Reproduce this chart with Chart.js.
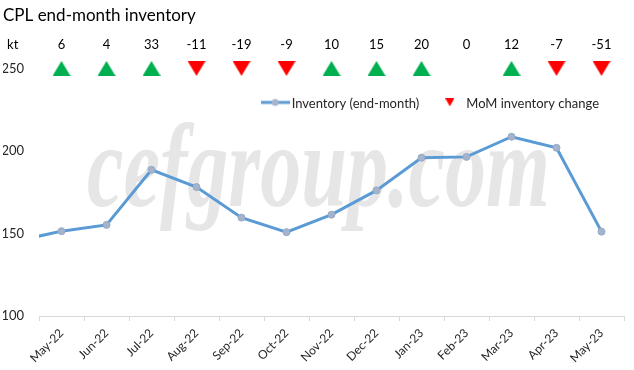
<!DOCTYPE html>
<html>
<head>
<meta charset="utf-8">
<script src="https://cdn.jsdelivr.net/npm/chart.js@4.4.1/dist/chart.umd.min.js"></script>
<style>
  html, body { margin: 0; padding: 0; background: #fff; }
  #wrap { width: 634px; height: 370px; }
</style>
</head>
<body>
<div id="wrap"><canvas id="inventory-chart"></canvas></div>
<script>
// CPL end-month inventory (kt)
// Apr-22 is kept off the axis, it only makes the line come in from the left edge
const months = ['Apr-22', 'May-22', 'Jun-22', 'Jul-22', 'Aug-22', 'Sep-22', 'Oct-22',
    'Nov-22', 'Dec-22', 'Jan-23', 'Feb-23', 'Mar-23', 'Apr-23', 'May-23'];
const inventory = [145.4, 151.4, 155.2, 188.6, 178.1, 159.6, 150.8,
    161.4, 176.1, 195.9, 196.4, 208.6, 201.9, 151.1];
const momChange = [null, 6, 4, 33, -11, -19, -9, 10, 15, 20, 0, 12, -7, -51];
const markerLevel = 250;
const yMin = 100;
const yMax = 250;
const yStep = 50;

const FONT = 'Lato';
const LINE_BLUE = '#5b9bd5';
const POINT_FILL = '#a5b4cc';
const UP_GREEN = '#00b050';
const DOWN_RED = '#ff0000';

// little canvases used as point styles
function triangle(w, h, color, up) {
    const c = document.createElement('canvas');
    c.width = w;
    c.height = h;
    const ctx = c.getContext('2d');
    ctx.fillStyle = color;
    ctx.beginPath();
    if (up) {
        ctx.moveTo(w / 2, 0);
        ctx.lineTo(w, h);
        ctx.lineTo(0, h);
    } else {
        ctx.moveTo(0, 0);
        ctx.lineTo(w, 0);
        ctx.lineTo(w / 2, h);
    }
    ctx.closePath();
    ctx.fill();
    return c;
}

function lineWithDot() {
    const c = document.createElement('canvas');
    c.width = 29;
    c.height = 10;
    const ctx = c.getContext('2d');
    ctx.strokeStyle = LINE_BLUE;
    ctx.lineWidth = 3;
    ctx.beginPath();
    ctx.moveTo(0, 5);
    ctx.lineTo(29, 5);
    ctx.stroke();
    ctx.fillStyle = POINT_FILL;
    ctx.beginPath();
    ctx.arc(14.5, 5, 3.5, 0, Math.PI * 2);
    ctx.fill();
    return c;
}

const upMark = triangle(18, 15, UP_GREEN, true);
const downMark = triangle(18, 15, DOWN_RED, false);
const legendTri = triangle(9, 8, DOWN_RED, false);
const legendLine = lineWithDot();

const markerData = momChange.map(v => (v === null || v === 0) ? null : markerLevel);
const markerStyle = momChange.map(v => (v !== null && v < 0) ? downMark : upMark);

// faint watermark behind the data
const watermark = {
    id: 'watermark',
    beforeDatasetsDraw(chart) {
        const { ctx, chartArea } = chart;
        ctx.save();
        ctx.font = 'italic bold 118px "Liberation Serif"';
        ctx.fillStyle = '#e6e6e6';
        ctx.textAlign = 'center';
        ctx.textBaseline = 'alphabetic';
        const text = 'cefgroup.com';
        const w = ctx.measureText(text).width;
        const cx = (chartArea.left + chartArea.right) / 2 - 13;
        ctx.translate(cx, chartArea.top + 138);
        ctx.scale(463 / w, 1);
        ctx.fillText(text, 0, 0);
        ctx.restore();
    }
};

// change values above the triangles plus the "kt" unit
const changeLabels = {
    id: 'changeLabels',
    afterDatasetsDraw(chart) {
        const { ctx, scales } = chart;
        const y = scales.y.getPixelForValue(markerLevel) - 24;
        ctx.save();
        ctx.font = '13px ' + FONT;
        ctx.fillStyle = '#000';
        ctx.textAlign = 'center';
        ctx.textBaseline = 'middle';
        momChange.forEach((v, i) => {
            if (v === null) return;
            ctx.fillText(String(v), scales.x.getPixelForValue(i), y);
        });
        const labelW = ctx.measureText('250').width;
        ctx.fillText('kt', scales.y.right - 15 - labelW / 2, y);
        ctx.restore();
    }
};

// legend sits inside the plot, top right
const innerLegend = {
    id: 'innerLegend',
    afterDraw(chart) {
        const { ctx, chartArea } = chart;
        const items = [
            { icon: legendLine, text: chart.data.datasets[0].label },
            { icon: legendTri, text: chart.data.datasets[1].label }
        ];
        ctx.save();
        ctx.font = '13px ' + FONT;
        ctx.fillStyle = '#262626';
        ctx.textBaseline = 'middle';
        ctx.textAlign = 'left';
        const y = chartArea.top + 34;
        const iconBox = 29;
        const gap = 2;
        const spacing = 16;
        let total = 0;
        items.forEach((it, i) => {
            it.w = iconBox + gap + ctx.measureText(it.text).width;
            total += it.w + (i ? spacing : 0);
        });
        let x = chartArea.right - 25 - total;
        items.forEach(it => {
            ctx.drawImage(it.icon, x + (iconBox - it.icon.width) / 2, y - it.icon.height / 2);
            ctx.fillText(it.text, x + iconBox + gap, y + 1);
            x += it.w + spacing;
        });
        ctx.restore();
    }
};

const INV_Chart = document.getElementById('inventory-chart');

const inventoryChart = new Chart(INV_Chart, {
    type: 'line',
    data: {
        labels: months,
        datasets: [
            {
                label: 'Inventory (end-month)',
                data: inventory,
                borderColor: LINE_BLUE,
                borderWidth: 3,
                pointRadius: 3.5,
                pointBackgroundColor: POINT_FILL,
                pointBorderColor: '#96a9c8',
                pointBorderWidth: 1,
                tension: 0,
                clip: 0,
            },
            {
                label: 'MoM inventory change',
                data: markerData,
                showLine: false,
                pointStyle: markerStyle,
                pointRadius: 9,
                clip: false,
            },
        ],
    },
    options: {
        responsive: true,
        maintainAspectRatio: false,
        animation: false,
        layout: {
            autoPadding: false,
            padding: { left: 3, right: 10, top: 0, bottom: 0 }
        },
        plugins: {
            legend: { display: false },
            tooltip: { enabled: false },
            title: {
                display: true,
                text: 'CPL end-month inventory',
                align: 'start',
                color: '#000',
                font: { family: FONT, size: 17, weight: 'normal' },
                padding: { top: 5, bottom: 43 }
            }
        },
        scales: {
            x: {
                min: 'May-22',
                offset: true,
                grid: {
                    display: true,
                    offset: true,
                    drawOnChartArea: false,
                    drawTicks: true,
                    tickLength: 5,
                    color: '#d9d9d9'
                },
                border: { display: true, color: '#d9d9d9', width: 1 },
                ticks: {
                    autoSkip: false,
                    minRotation: 45,
                    maxRotation: 45,
                    padding: 5,
                    color: '#262626',
                    font: { family: FONT, size: 12 }
                },
                // let the rotated labels hang past the plot edge like the original
                afterFit(scale) {
                    scale.paddingLeft = 0;
                    scale.paddingRight = 0;
                    scale.height = 54;
                }
            },
            y: {
                min: yMin,
                max: yMax,
                grid: { display: false, drawTicks: false },
                border: { display: false },
                ticks: {
                    stepSize: yStep,
                    padding: 15,
                    color: '#262626',
                    font: { family: FONT, size: 13 }
                },
                afterFit(scale) {
                    scale.width = 36;
                }
            }
        }
    },
    plugins: [watermark, changeLabels, innerLegend]
});
</script>
</body>
</html>
